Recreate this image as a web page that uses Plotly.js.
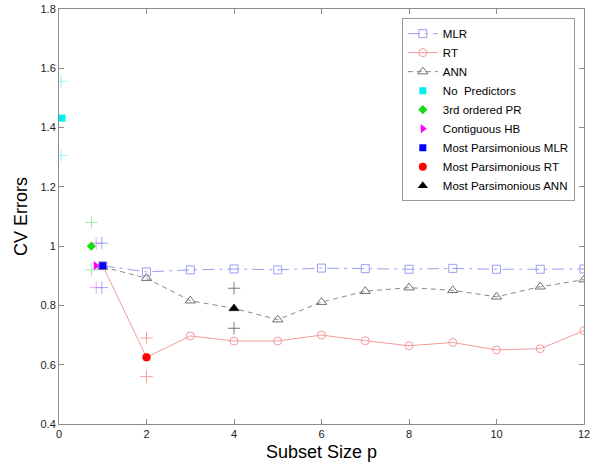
<!DOCTYPE html>
<html>
<head>
<meta charset="utf-8">
<script src="https://cdn.plot.ly/plotly-3.0.1.min.js"></script>
<style>html,body{margin:0;padding:0;background:#fff;}#chart{width:600px;height:474px;}</style>
</head>
<body>
<div id="chart"></div>
<script>
// Subset sizes
const subsetSize = [1, 2, 3, 4, 5, 6, 7, 8, 9, 10, 11, 12];
// CV errors for each model family
const mlrErrors = [0.934, 0.913, 0.920, 0.923, 0.920, 0.926, 0.924, 0.922, 0.925, 0.922, 0.922, 0.923];
const rtErrors  = [0.934, 0.625, 0.697, 0.680, 0.680, 0.700, 0.681, 0.664, 0.675, 0.650, 0.654, 0.715];
const annErrors = [0.930, 0.892, 0.816, 0.790, 0.752, 0.811, 0.848, 0.860, 0.851, 0.829, 0.863, 0.887];

// Single reference points
const noPredX = [0.07], noPredY = [1.432];
const pr3X = [0.74], pr3Y = [1.0];
const hbX = [0.84], hbY = [0.934];
const bestMlrX = [1], bestMlrY = [0.934];
const bestRtX = [2], bestRtY = [0.625];
const bestAnnX = [4], bestAnnY = [0.790];

// Error-range crosses
const noPredRangeX = [0.05, 0.05], noPredRangeY = [1.556, 1.306];
const pr3RangeX = [0.74, 0.74], pr3RangeY = [1.08, 0.92];
const hbRangeX = [0.85, 0.85], hbRangeY = [1.01, 0.86];
const mlrRangeX = [0.98, 0.98], mlrRangeY = [1.01, 0.86];
const rtRangeX = [2, 2], rtRangeY = [0.69, 0.56];
const annRangeX = [4, 4], annRangeY = [0.858, 0.723];

const xTicks = [0, 2, 4, 6, 8, 10, 12];
const yTicks = [0.4, 0.6, 0.8, 1.0, 1.2, 1.4, 1.6, 1.8];
const yTickText = ['0.4', '0.6', '0.8', '1', '1.2', '1.4', '1.6', '1.8'];

function cross(x, y, color) {
  return {x: x, y: y, type: 'scatter', mode: 'markers', showlegend: false, hoverinfo: 'skip',
    marker: {symbol: 'cross-thin-open', size: 9, color: color, line: {color: color, width: 0.8}}};
}

const traces = [
  {x: subsetSize, y: mlrErrors, name: 'MLR', type: 'scatter', mode: 'lines+markers',
   line: {color: '#9c9cf6', width: 1, dash: '12px,5px,3px,5px'},
   marker: {symbol: 'square-open', size: 8, color: '#9c9cf6', line: {width: 1}}},
  {x: subsetSize, y: rtErrors, name: 'RT', type: 'scatter', mode: 'lines+markers',
   line: {color: '#f59a9a', width: 1},
   marker: {symbol: 'circle-open', size: 8, color: '#f59a9a', line: {width: 1}}},
  {x: subsetSize, y: annErrors, name: 'ANN', type: 'scatter', mode: 'lines+markers',
   line: {color: '#8a8a8a', width: 1, dash: '5px,4px'},
   marker: {symbol: 'triangle-up-open', size: 9, color: '#707070', line: {width: 1}}},
  cross(noPredRangeX, noPredRangeY, '#88f0f0'),
  cross(pr3RangeX, pr3RangeY, '#88e888'),
  cross(hbRangeX, hbRangeY, '#f090f0'),
  cross(mlrRangeX, mlrRangeY, '#8c8cf4'),
  cross(rtRangeX, rtRangeY, '#f28c8c'),
  cross(annRangeX, annRangeY, '#555555'),
  {x: noPredX, y: noPredY, name: 'No  Predictors', type: 'scatter', mode: 'markers', cliponaxis: false,
   marker: {symbol: 'square', size: 7, color: '#00f0f0'}},
  {x: pr3X, y: pr3Y, name: '3rd ordered PR', type: 'scatter', mode: 'markers',
   marker: {symbol: 'diamond', size: 7, color: '#11dd11'}},
  {x: hbX, y: hbY, name: 'Contiguous HB', type: 'scatter', mode: 'markers',
   marker: {symbol: 'triangle-right', size: 8, color: '#ff00ff'}},
  {x: bestMlrX, y: bestMlrY, name: 'Most Parsimonious MLR', type: 'scatter', mode: 'markers',
   marker: {symbol: 'square', size: 7, color: '#0000ff'}},
  {x: bestRtX, y: bestRtY, name: 'Most Parsimonious RT', type: 'scatter', mode: 'markers',
   marker: {symbol: 'circle', size: 8, color: '#ff0000'}},
  {x: bestAnnX, y: bestAnnY, name: 'Most Parsimonious ANN', type: 'scatter', mode: 'markers',
   marker: {symbol: 'triangle-up', size: 9, color: '#000000'}}
];

const axisCommon = {
  showgrid: false, zeroline: false, showline: true, linecolor: '#8c8c8c', linewidth: 1,
  mirror: 'ticks', ticks: 'inside', ticklen: 5, tickcolor: '#8c8c8c', tickwidth: 1,
  tickfont: {family: 'Liberation Sans, Arial, sans-serif', size: 11, color: '#222'}
};

const layout = {
  width: 600, height: 474,
  margin: {l: 59, r: 16, t: 9, b: 50},
  paper_bgcolor: '#fff', plot_bgcolor: '#fff',
  showlegend: true,
  xaxis: Object.assign({}, axisCommon, {
    range: [0, 12], tickmode: 'array', tickvals: xTicks, ticktext: xTicks.map(String),
    title: {text: 'Subset Size p', font: {family: 'Liberation Sans, Arial, sans-serif', size: 18, color: '#000'}, standoff: 6}
  }),
  yaxis: Object.assign({}, axisCommon, {
    range: [0.4, 1.8], tickmode: 'array', tickvals: yTicks, ticktext: yTickText,
    title: {text: 'CV Errors', font: {family: 'Liberation Sans, Arial, sans-serif', size: 18, color: '#000'}, standoff: 8}
  }),
  legend: {
    x: 0.653, y: 0.978, xanchor: 'left', yanchor: 'top',
    bgcolor: '#fff', bordercolor: '#999', borderwidth: 1,
    font: {family: 'Liberation Sans, Arial, sans-serif', size: 11.5, color: '#000'},
    tracegroupgap: 0, itemwidth: 30
  }
};

Plotly.newPlot('chart', traces, layout, {displayModeBar: false, staticPlot: true});
</script>
</body>
</html>
